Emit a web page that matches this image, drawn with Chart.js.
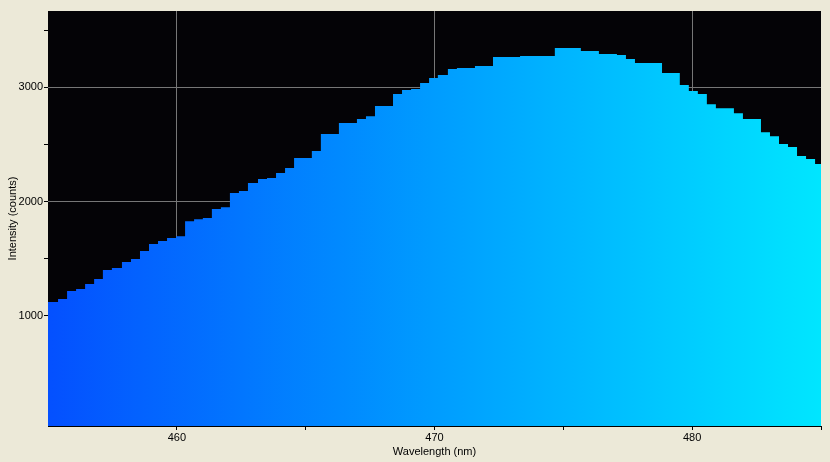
<!DOCTYPE html>
<html>
<head>
<meta charset="utf-8">
<script src="https://cdn.jsdelivr.net/npm/chart.js@4"></script>
<style>
  html, body { margin: 0; padding: 0; background: #ECE9D8; }
  #wrap { width: 830px; height: 462px; }
</style>
</head>
<body>
<div id="wrap"><canvas id="c" width="830" height="462"></canvas></div>
<script>
// Bin start wavelengths (nm)
const wavelengths = [
  455.00, 455.39, 455.74, 456.09, 456.44, 456.79, 457.13, 457.48, 457.87, 458.22,
  458.57, 458.92, 459.27, 459.62, 459.97, 460.32, 460.67, 461.01, 461.36, 461.71,
  462.06, 462.41, 462.76, 463.15, 463.50, 463.85, 464.20, 464.55, 464.90, 465.24,
  465.59, 465.94, 466.29, 466.64, 466.99, 467.34, 467.69, 468.04, 468.39, 468.74,
  469.09, 469.44, 469.79, 470.13, 470.52, 470.87, 471.22, 471.57, 471.92, 472.27,
  472.62, 472.97, 473.32, 473.67, 474.01, 474.36, 474.67, 474.98, 475.33, 475.68,
  476.03, 476.38, 476.73, 477.08, 477.43, 477.78, 478.13, 478.48, 478.83, 479.18,
  479.52, 479.87, 480.22, 480.57, 480.92, 481.27, 481.62, 481.97, 482.32, 482.67,
  483.02, 483.37, 483.72, 484.07, 484.42, 484.77
];
const lastBinEnd = 485.11;

// Intensity (counts) per bin
const intensity = [
  1120, 1146, 1216, 1234, 1278, 1322, 1400, 1418, 1470, 1496,
  1566, 1628, 1654, 1680, 1697, 1828, 1846, 1855, 1934, 1951,
  2074, 2092, 2162, 2197, 2206, 2250, 2293, 2381, 2381, 2442,
  2591, 2591, 2687, 2687, 2722, 2748, 2836, 2836, 2941, 2976,
  2985, 3038, 3082, 3108, 3161, 3169, 3169, 3187, 3187, 3266,
  3266, 3266, 3274, 3274, 3274, 3274, 3344, 3344, 3344, 3318,
  3318, 3292, 3292, 3283, 3248, 3213, 3213, 3213, 3126, 3126,
  3020, 2968, 2941, 2853, 2818, 2818, 2774, 2722, 2722, 2608,
  2573, 2503, 2477, 2398, 2372, 2328
];

const xTicks = [460, 465, 470, 475, 480, 485];
const xLabelled = [460, 470, 480];
const yTicks = [1000, 1500, 2000, 2500, 3000, 3500];
const yLabelled = [1000, 2000, 3000];
const xRange = [455, 485];
const yRange = [34, 3669];

const points = wavelengths.map((w, i) => ({ x: w, y: intensity[i] }));
points.push({ x: lastBinEnd, y: intensity[intensity.length - 1] });

const plotBg = {
  id: 'plotBg',
  beforeDraw(chart) {
    const { ctx, chartArea: a } = chart;
    ctx.save();
    ctx.fillStyle = '#040306';
    ctx.fillRect(a.left, a.top, a.right - a.left, a.bottom - a.top);
    ctx.restore();
  }
};

Chart.defaults.font.family = "'Liberation Sans', Arial, sans-serif";
Chart.defaults.font.size = 11;
Chart.defaults.color = '#000';

new Chart(document.getElementById('c'), {
  type: 'line',
  data: {
    datasets: [{
      data: points,
      stepped: 'before',
      borderWidth: 0,
      pointRadius: 0,
      fill: 'start',
      backgroundColor(ctx) {
        const a = ctx.chart.chartArea;
        if (!a) return '#0080ff';
        const g = ctx.chart.ctx.createLinearGradient(a.left, 0, a.right, 0);
        g.addColorStop(0, '#0450ff');
        g.addColorStop(0.5, '#009cff');
        g.addColorStop(1, '#00e6ff');
        return g;
      }
    }]
  },
  options: {
    responsive: false,
    animation: false,
    layout: { padding: { left: 0, top: 11, right: 9, bottom: 0 } },
    plugins: { legend: { display: false }, tooltip: { enabled: false } },
    scales: {
      x: {
        type: 'linear',
        min: xRange[0], max: xRange[1],
        afterBuildTicks(s) { s.ticks = xTicks.map(v => ({ value: v })); },
        afterFit(s) { s.height = 36; },
        ticks: {
          autoSkip: false, maxRotation: 0, padding: 1,
          callback: v => xLabelled.includes(v) ? String(v) : ''
        },
        grid: {
          color: c => (c.tick && xLabelled.includes(c.tick.value)) ? '#767676' : 'rgba(0,0,0,0)',
          tickColor: '#000',
          tickLength: 4,
          lineWidth: 1
        },
        border: { display: true, color: '#000', width: 1 },
        title: { display: true, text: 'Wavelength (nm)', color: '#000', padding: { top: 0, bottom: 3 } }
      },
      y: {
        type: 'linear',
        min: yRange[0], max: yRange[1],
        afterBuildTicks(s) { s.ticks = yTicks.map(v => ({ value: v })); },
        afterFit(s) { s.width = 48; },
        ticks: {
          autoSkip: false, padding: 1,
          callback: v => yLabelled.includes(v) ? String(v) : ''
        },
        grid: {
          color: c => (c.tick && yLabelled.includes(c.tick.value)) ? '#767676' : 'rgba(0,0,0,0)',
          tickColor: '#000',
          tickLength: 4,
          lineWidth: 1
        },
        border: { display: false },
        title: { display: true, text: 'Intensity (counts)', color: '#000', padding: { top: 6.5, bottom: 0 } }
      }
    }
  },
  plugins: [plotBg]
});
</script>
</body>
</html>
